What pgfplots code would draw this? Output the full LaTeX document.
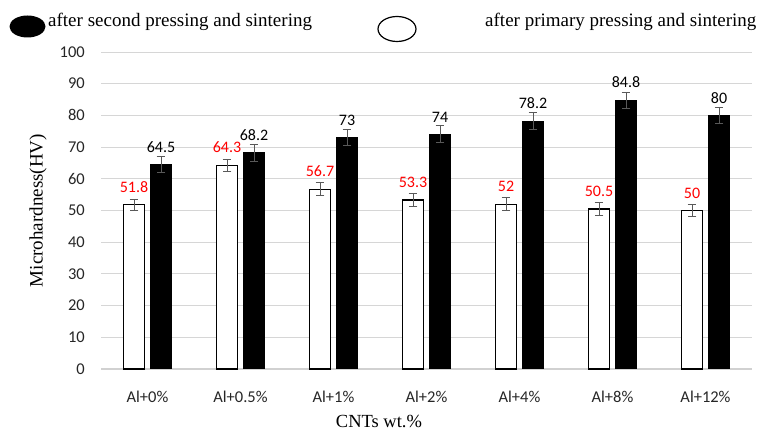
\documentclass[border=0pt]{standalone}
\usepackage{fontspec}
\setmainfont{Liberation Serif}
\newfontfamily\carl{Carlito}
\usepackage{pgfplots}
\usepackage{pgfplotstable}
\pgfplotsset{compat=1.18}
\pgfplotstableread{
x w we b be
0 51.8 1.8 64.5 2.6
1 64.3 1.9 68.2 2.7
2 56.7 2 73 2.6
3 53.3 2 74 2.7
4 52 2 78.2 2.7
5 50.5 2 84.8 2.5
6 50 1.9 80 2.6
}\datatable
\begin{document}
\begin{tikzpicture}[x=1pt,y=1pt]
\useasboundingbox (0,0) rectangle (758,431);
\begin{axis}[
  at={(101pt,62pt)}, anchor=south west,
  scale only axis, width=651pt, height=317pt,
  ymin=0, ymax=100, ytick={0,10,...,100},
  xmin=-0.5, xmax=6.5,
  xtick=data,
  xticklabels={Al+0\%,Al+0.5\%,Al+1\%,Al+2\%,Al+4\%,Al+8\%,Al+12\%},
  axis x line*=bottom, axis y line*=left,
  x axis line style={-, color=black!18, line width=1.3pt},
  y axis line style={draw=none},
  major tick length=0pt,
  ymajorgrids, grid style={color=black!16, line width=0.8pt},
  /pgf/number format/assume math mode=true,
  ticklabel style={font=\carl\fontsize{16.5}{16.5}\selectfont, text=black!85},
  yticklabel style={anchor=east, inner sep=0pt, xshift=-16pt},
  xticklabel style={anchor=center, inner sep=0pt, yshift=-28pt},
  ybar, bar width=21pt,
  xlabel={CNTs wt.\%},
  xlabel style={at={(rel axis cs:0,0)}, anchor=center, font=\fontsize{18.5}{18.5}\selectfont, xshift=278pt, yshift=-52pt},
  ylabel={Microhardness(HV)},
  ylabel style={at={(rel axis cs:0,0.5)}, anchor=center, font=\fontsize{19}{19}\selectfont, yshift=63pt},
  clip=false,
]
\addplot[bar shift=-13.5pt, fill=white, draw=black, line width=1.3pt,
  error bars/.cd, y dir=both, y explicit,
  error bar style={color=black!65, line width=1pt},
  error mark options={rotate=90, mark size=4.3pt, line width=1pt, color=black!65}]
  table[x=x, y=w, y error=we] {\datatable};
\addplot[bar shift=13.5pt, fill=black, draw=black, line width=0pt,
  error bars/.cd, y dir=both, y explicit,
  error bar style={color=black!65, line width=1pt},
  error mark options={rotate=90, mark size=4.3pt, line width=1pt, color=black!65}]
  table[x=x, y=b, y error=be] {\datatable};
\addplot[bar shift=-13.5pt, draw=none, fill=none, forget plot,
  nodes near coords, point meta=explicit symbolic,
  every node near coord/.append style={font=\carl\fontsize{16}{16}\selectfont, text=red, inner sep=0pt, anchor=south, yshift=12pt}]
  table[x=x, y=w, meta=w] {\datatable};
\addplot[bar shift=13.5pt, draw=none, fill=none, forget plot,
  nodes near coords, point meta=explicit symbolic,
  every node near coord/.append style={font=\carl\fontsize{16}{16}\selectfont, text=black, inner sep=0pt, anchor=south, yshift=12pt}]
  table[x=x, y=b, meta=b] {\datatable};
\end{axis}
% legend
\fill[black] (27.5,404.5) ellipse [x radius=18, y radius=11];
\node[anchor=base west, inner sep=0pt, font=\fontsize{19}{19}\selectfont] at (48,404) {after second pressing and sintering};
\draw[black, line width=1.2pt] (397,402) ellipse [x radius=19, y radius=12.5];
\node[anchor=base west, inner sep=0pt, font=\fontsize{19}{19}\selectfont] at (485,404) {after primary pressing and sintering};
\end{tikzpicture}
\end{document}
